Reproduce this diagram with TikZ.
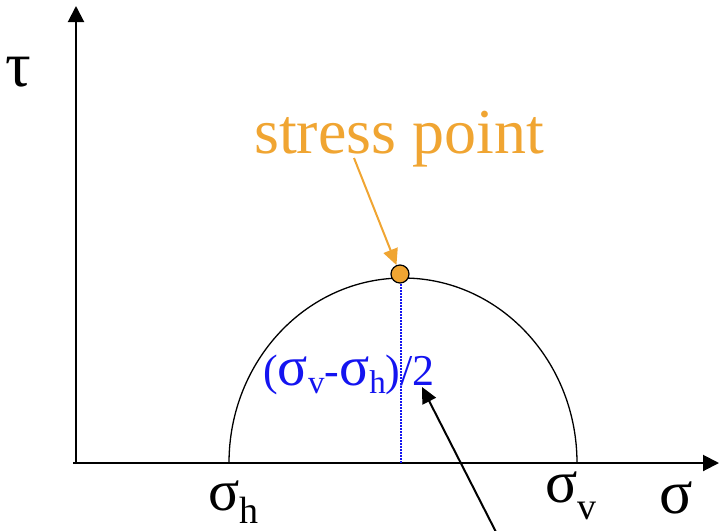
\documentclass[tikz,border=0pt]{standalone}
\usepackage{fontspec}
\setmainfont{Liberation Serif}
\usetikzlibrary{arrows.meta}
\definecolor{orng}{RGB}{240,165,50}
\definecolor{blu}{RGB}{20,20,240}
\tikzset{
  axis/.style={line width=2pt,-{Triangle[width=16pt,length=16pt]}},
  ptr/.style={line width=2pt,-{Triangle[width=15pt,length=16pt]}},
  lab/.style={inner sep=0pt,anchor=base west},
}
\newcommand{\mysub}[3]{\raisebox{-#2pt}{\fontsize{#1}{#1}\selectfont #3}}
\newcommand{\gk}[2]{{\fontsize{#1}{#1}\selectfont #2}}
\begin{document}
\begin{tikzpicture}[x=1pt,y=-1pt]
\useasboundingbox (0,0) rectangle (719,530);
\clip (0,0) rectangle (719,530);
% axes
\coordinate (ybot) at (76,464);
\coordinate (ytip) at (76,6);
\coordinate (xstart) at (73,463);
\coordinate (xtip) at (719,463);
\draw[axis] (ybot) -- (ytip);
\draw[axis] (xstart) -- (xtip);
% Mohr semicircle
\coordinate (left) at (229,463);
\draw[line width=1.3pt] (left) arc[start angle=180,end angle=360,x radius=174,y radius=185];
% dotted radius
\coordinate (rtop) at (401,284);
\coordinate (rbot) at (401,463);
\draw[blu,line width=1.5pt,dash pattern=on 1.5pt off 1.5pt] (rtop) -- (rbot);
% stress point
\node[circle,fill=orng,draw=black,line width=1.2pt,minimum size=18pt,inner sep=0pt] (sp) at (400,274) {};
\node[lab,text=orng,font=\fontsize{64}{64}\selectfont] (spl) at (254,153) {stress point};
\coordinate (sptail) at (354,158);
\draw[ptr,orng] (sptail) -- (sp);
% labels
\node[lab] (tau) at (5,86) {\gk{64}{τ}};
\node[lab] (sig) at (659,513) {\gk{62}{σ}};
\node[lab] (sh) at (208,510) {\gk{58}{σ}\mysub{38}{13}{h}};
\node[lab] (sv) at (545,502) {\gk{60}{σ}\mysub{38}{17}{v}};
\node[lab,text=blu,font=\fontsize{44}{44}\selectfont] (rad) at (263,385) {(\gk{56}{σ}\mysub{33}{8}{v}-\gk{56}{σ}\mysub{33}{8}{h})/2};
% black pointer
\coordinate (btail) at (497,534);
\coordinate (btip) at (422,387);
\draw[ptr,black] (btail) -- (btip);
\end{tikzpicture}
\end{document}
